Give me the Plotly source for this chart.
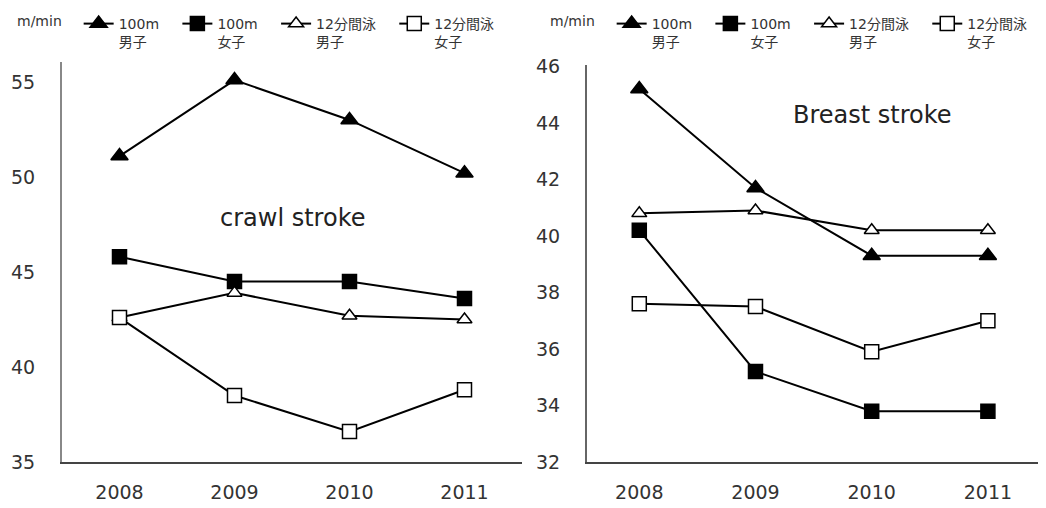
import plotly.graph_objects as go

years = ["2008", "2009", "2010", "2011"]
series_top = ["100m", "100m", "12分間泳", "12分間泳"]
series_bottom = ["男子", "女子", "男子", "女子"]

crawl_100m_men = [51.1, 55.1, 53.0, 50.2]
crawl_100m_women = [45.8, 44.5, 44.5, 43.6]
crawl_12min_men = [42.6, 43.9, 42.7, 42.5]
crawl_12min_women = [42.6, 38.5, 36.6, 38.8]

breast_100m_men = [45.2, 41.7, 39.3, 39.3]
breast_100m_women = [40.2, 35.2, 33.8, 33.8]
breast_12min_men = [40.8, 40.9, 40.2, 40.2]
breast_12min_women = [37.6, 37.5, 35.9, 37.0]

OFF = 8  # default page body margin
W, H = 1046 - OFF, 508 - OFF
FONT = "DejaVu Sans, Noto Sans CJK JP, sans-serif"
PAD = "&nbsp;" * 3

styles = [
    dict(symbol="triangle-up", color="black", size=15),
    dict(symbol="square", color="black", size=14),
    dict(symbol="triangle-up", color="white", size=13),
    dict(symbol="square", color="white", size=14),
]

fig = go.Figure()

def add_group(vals, xa, ya, legend):
    for i, (top, bot, v, st) in enumerate(zip(series_top, series_bottom, vals, styles)):
        pad = PAD if i < len(series_top) - 1 else ""
        fig.add_trace(go.Scatter(
            x=years, y=v, name=top + pad + "<br>" + bot, mode="lines+markers",
            xaxis=xa, yaxis=ya, legend=legend,
            line=dict(color="black", width=2),
            marker=dict(symbol=st["symbol"], color=st["color"], size=st["size"],
                        line=dict(color="black", width=1.5)),
        ))

add_group([crawl_100m_men, crawl_100m_women, crawl_12min_men, crawl_12min_women], "x", "y", "legend")
add_group([breast_100m_men, breast_100m_women, breast_12min_men, breast_12min_women], "x2", "y2", "legend2")

def px_x(p):
    return (p - OFF) / W

def px_y(p):
    return 1 - (p - OFF) / H

axis_common = dict(showgrid=False, zeroline=False, showline=True,
                   linewidth=2, ticks="", tickfont=dict(size=19, color="#333", family=FONT))

legend_common = dict(orientation="h", yanchor="top", y=1.0, xanchor="left", valign="top",
                     font=dict(size=14, color="#333", family=FONT),
                     title=dict(text="m/min  ", side="left", font=dict(size=14, color="#333", family=FONT)),
                     bgcolor="rgba(0,0,0,0)", tracegroupgap=0)

fig.update_layout(
    width=W, height=H,
    margin=dict(l=0, r=0, t=0, b=0, autoexpand=False),
    paper_bgcolor="white", plot_bgcolor="white",
    font=dict(family=FONT, color="#333"),
    xaxis=dict(axis_common, domain=[px_x(62), px_x(522)], type="category", range=[-0.5, 3.5],
               linecolor="#444", ticklabelstandoff=12),
    yaxis=dict(axis_common, domain=[px_y(462), px_y(62)], range=[35, 56.05],
               tickvals=[35, 40, 45, 50, 55], anchor="x", linecolor="#888", ticklabelstandoff=21),
    xaxis2=dict(axis_common, domain=[px_x(587), 1.0], type="category", range=[-0.45, 3.5],
                anchor="y2", linecolor="#444", ticklabelstandoff=12),
    yaxis2=dict(axis_common, domain=[px_y(462), px_y(65)], range=[32, 46.05],
                tickvals=[32, 34, 36, 38, 40, 42, 44, 46], anchor="x2", linecolor="#666",
                ticklabelstandoff=21),
    legend=dict(legend_common, x=px_x(15)),
    legend2=dict(legend_common, x=px_x(548)),
    showlegend=True,
    annotations=[
        dict(text="crawl stroke", x=px_x(292), y=px_y(218), xref="paper", yref="paper",
             xanchor="center", yanchor="middle",
             showarrow=False, font=dict(size=24, color="#222", family=FONT)),
        dict(text="Breast stroke", x=px_x(872), y=px_y(115), xref="paper", yref="paper",
             xanchor="center", yanchor="middle",
             showarrow=False, font=dict(size=24, color="#222", family=FONT)),
    ],
)

fig.write_html("out.html")
